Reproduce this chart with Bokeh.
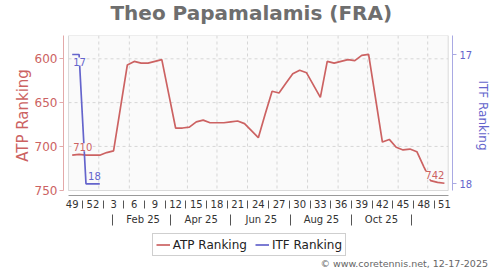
from datetime import date
from bokeh.plotting import figure
from bokeh.layouts import column
from bokeh.models import (Range1d, LinearAxis, FixedTicker, BoxAnnotation, Label,
                          Legend, LegendItem, Div)
from bokeh.core.properties import value
from bokeh.embed import file_html
from bokeh.resources import INLINE

# ---------------- data ----------------
title_text = "Theo Papamalamis (FRA)"
footer_text = "\u00a9 www.coretennis.net, 12-17-2025"
first_week_date = date(2024, 12, 5)

week_numbers = [49, 50, 51, 52] + list(range(1, 52))          # one per weekly point
atp_rank = [710, 709, 710, 710, 710, 707, 705, 656, 607, 603,
            605, 605, 603, 601, 640, 679, 679, 678, 672, 670,
            673, 673, 673, 672, 671, 674, 682, 690, 663, 637,
            639, 628, 617, 613, 616, 630, 644, 603, 605, 603,
            601, 602, 596, 595, 645, 695, 692, 701, 704, 703,
            706, 723, 739, 741, 742]
itf_rank = [17, 17, 18, 18, 18]

atp_ticks = [600, 650, 700, 750]
itf_ticks = [17, 18]
month_grid_dates = [date(2025, m, 1) for m in range(1, 13)]
month_label_dates = [date(2025, m, 15) for m in (2, 4, 6, 8, 10)]
month_labels = ["Feb 25", "Apr 25", "Jun 25", "Aug 25", "Oct 25"]
month_sep_dates = [date(2025, m, 15) for m in (1, 3, 5, 7, 9, 11)]
series_names = ["ATP Ranking", "ITF Ranking"]

ATP_COLOR = "#cc6262"
ITF_COLOR = "#6464cc"
FONT = "DejaVu Sans"

def idx(d):
    return (d - first_week_date).days / 7.0

atp_x = list(range(len(atp_rank)))
itf_x = list(range(len(itf_rank)))
week_tick_x = atp_x[::3]
week_tick_labels = {x: str(week_numbers[x]) for x in week_tick_x}
week_sep_x = [x + 1.5 for x in week_tick_x[:-1]]
month_label_x = [idx(d) for d in month_label_dates]
month_sep_x = [idx(d) for d in month_sep_dates]
month_grid_x = [idx(d) for d in month_grid_dates]

def strip(height):
    # frames are aligned with the main chart's frame (63..452 px), so use px units
    f = figure(width=500, height=height, output_backend="svg", toolbar_location=None,
               x_range=Range1d(63, 452), y_range=Range1d(height, 0),
               x_axis_type=None, y_axis_type=None,
               min_border_left=63, min_border_right=48, min_border_top=0,
               min_border_bottom=0)
    f.outline_line_color = None
    f.background_fill_color = "white"
    f.border_fill_color = "white"
    return f

# ---------------- title strip ----------------
top = strip(35)
top.text(x=[250.8], y=[12.5], text=[title_text], text_align="center",
         text_baseline="middle", text_font=value(FONT), text_font_size="20px",
         text_font_style="bold", text_color="#6e6e6e")

# ---------------- main chart ----------------
BOX_L, BOX_R = -0.53, 54.55
BOX_T, BOX_B = 573.4, 750.3

p = figure(width=500, height=195, output_backend="svg", toolbar_location=None,
           x_range=Range1d(-1.262, 55.17), y_range=Range1d(756.0, 573.4),
           x_axis_type=None, y_axis_type=None,
           min_border_left=63, min_border_right=48, min_border_top=0,
           min_border_bottom=35)
p.extra_y_ranges = {"itf": Range1d(18.0905, 16.853)}
p.background_fill_color = "white"
p.border_fill_color = "white"
p.outline_line_color = None

p.add_layout(BoxAnnotation(left=BOX_L, right=BOX_R, top=BOX_T, bottom=BOX_B,
                           fill_color="#fafafa", fill_alpha=1.0,
                           line_color="#8a8a8a", line_width=1, level="underlay"))

p.segment(x0=[BOX_L] * 3, x1=[BOX_R] * 3, y0=atp_ticks[:3], y1=atp_ticks[:3],
          line_color="#d6d6d6", line_dash="3 3", line_width=1)
p.segment(x0=month_grid_x, x1=month_grid_x, y0=[BOX_T] * len(month_grid_x),
          y1=[BOX_B] * len(month_grid_x),
          line_color="#d6d6d6", line_dash="3 3", line_width=1)

p.line(atp_x, atp_rank, line_color=ATP_COLOR, line_width=1.7)
p.line(itf_x, itf_rank, line_color=ITF_COLOR, line_width=1.7, y_range_name="itf")

def end_label(x, y, text, color, align, baseline, dx, dy, rng="default"):
    p.add_layout(Label(x=x, y=y, text=text, y_range_name=rng,
                       text_align=align, text_baseline=baseline,
                       x_offset=dx, y_offset=dy, text_color=color,
                       text_font=FONT, text_font_size="10px",
                       background_fill_color="#fafafa", background_fill_alpha=1.0))

end_label(atp_x[0], atp_rank[0], str(atp_rank[0]), ATP_COLOR, "left", "bottom", 1, 4)
end_label(atp_x[-1], atp_rank[-1], str(atp_rank[-1]), ATP_COLOR, "right", "bottom", 0, 4)
end_label(itf_x[0], itf_rank[0], str(itf_rank[0]), ITF_COLOR, "left", "top", 1, -3, "itf")
end_label(itf_x[-1], itf_rank[-1], str(itf_rank[-1]), ITF_COLOR, "right", "bottom", 1, 4, "itf")

ya = LinearAxis(ticker=FixedTicker(ticks=atp_ticks), bounds=(BOX_T, BOX_B),
                axis_line_color="#e3a9a9", major_tick_line_color="#e3a9a9",
                major_tick_in=0, major_tick_out=4, minor_tick_line_color=None,
                major_label_text_color=ATP_COLOR, major_label_text_font=FONT,
                major_label_text_font_size="12px", major_label_standoff=2,
                axis_label=series_names[0], axis_label_text_color=ATP_COLOR,
                axis_label_text_font=FONT, axis_label_text_font_size="15px",
                axis_label_text_font_style="normal", axis_label_standoff=0)
p.add_layout(ya, "left")

ra = LinearAxis(y_range_name="itf", ticker=FixedTicker(ticks=itf_ticks),
                bounds=(16.853, 18.052),
                axis_line_color="#a9a9e3", major_tick_line_color="#a9a9e3",
                major_tick_in=0, major_tick_out=4, minor_tick_line_color=None,
                major_label_text_color=ITF_COLOR, major_label_text_font=FONT,
                major_label_text_font_size="10px", major_label_standoff=3,
                axis_label=series_names[1], axis_label_text_color=ITF_COLOR,
                axis_label_text_font=FONT, axis_label_text_font_size="12px",
                axis_label_text_font_style="normal", axis_label_standoff=1)
p.add_layout(ra, "right")

xa = LinearAxis(ticker=FixedTicker(ticks=week_tick_x, minor_ticks=week_sep_x),
                major_label_overrides=week_tick_labels, bounds=(BOX_L, BOX_R),
                axis_line_color="#9a9a9a", axis_line_width=1,
                major_tick_line_color=None, major_tick_in=0, major_tick_out=0,
                minor_tick_line_color="#555555", minor_tick_in=-5, minor_tick_out=13,
                major_label_standoff=-9, major_label_text_font=FONT,
                major_label_text_font_size="10px", major_label_text_color="#333333")
p.add_layout(xa, "below")

ma = LinearAxis(ticker=FixedTicker(ticks=month_label_x, minor_ticks=month_sep_x),
                major_label_overrides={x: t for x, t in zip(month_label_x, month_labels)},
                axis_line_color=None,
                major_tick_line_color=None, major_tick_in=0, major_tick_out=0,
                minor_tick_line_color="#555555", minor_tick_in=-4, minor_tick_out=15,
                major_label_standoff=-12, major_label_text_font=FONT,
                major_label_text_font_size="10px", major_label_text_color="#333333")
p.add_layout(ma, "below")

# ---------------- legend strip ----------------
bot = strip(27)
# legend keys: same series drawn in this strip's ranges, where they fall outside the view
k_atp = bot.line(atp_x, atp_rank, line_color=ATP_COLOR, line_width=1.7)
k_itf = bot.line(itf_x, itf_rank, line_color=ITF_COLOR, line_width=1.7)
legend = Legend(items=[LegendItem(label=series_names[0], renderers=[k_atp]),
                       LegendItem(label=series_names[1], renderers=[k_itf])],
                location=(88.7, 1), orientation="horizontal",
                padding=3, spacing=8, margin=0, glyph_width=14, glyph_height=15,
                label_height=15, label_standoff=3,
                label_text_font=FONT, label_text_font_size="12px",
                label_text_color="#222222",
                border_line_color="#a0a0a0", background_fill_color="white",
                background_fill_alpha=1.0)
bot.add_layout(legend)

# ---------------- footer ----------------
footer = Div(text=footer_text, width=500, height=13, margin=0,
             styles={"text-align": "right", "padding-right": "12px",
                     "box-sizing": "border-box", "width": "500px",
                     "font-family": FONT, "font-size": "9.5px",
                     "line-height": "13px", "color": "#666666",
                     "background": "white"})

open("out.html", "w").write(file_html(column(top, p, bot, footer, spacing=0), INLINE))
